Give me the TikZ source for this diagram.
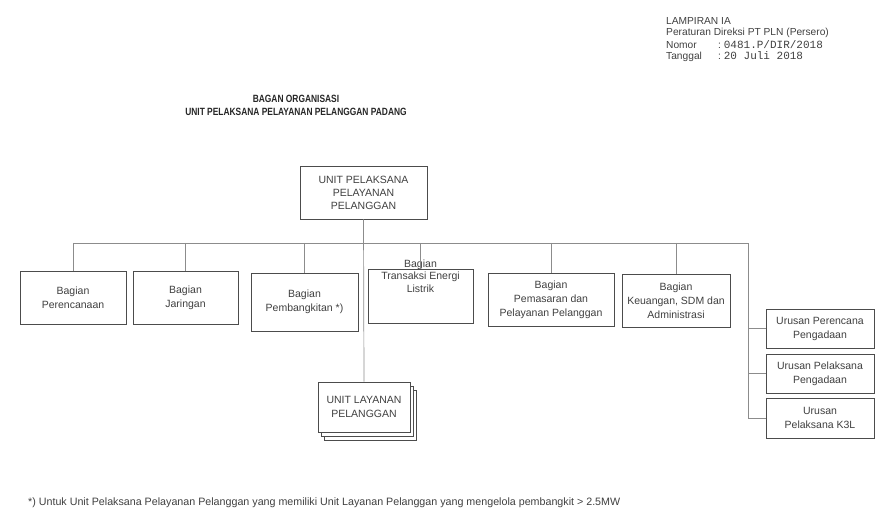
\documentclass[tikz,border=0pt]{standalone}
\usepackage{fontspec}
\setmainfont{Liberation Sans}
\setmonofont{Liberation Mono}
\newfontfamily\judulfont[FakeStretch=0.8]{Liberation Sans}
\usetikzlibrary{shadows}

\begin{document}
\begin{tikzpicture}[x=1pt, y=-1pt,
    box/.style={draw=black!70, fill=white, line width=0.8pt, align=center,
                inner sep=1pt, text=black!75, font=\fontsize{10.5}{14}\selectfont},
    boxtext/.style={align=center, inner sep=0pt, text=black!75,
                font=\fontsize{10.5}{12.5}\selectfont},
    link/.style={draw=black!45, line width=0.7pt},
    hdr/.style={anchor=west, inner sep=0pt, text=black!75, font=\fontsize{10.2}{12}\selectfont},
    judul/.style={inner sep=0pt, text=black!85, font=\judulfont\bfseries\fontsize{10.5}{12}\selectfont}]
    \useasboundingbox (0,0) rectangle (875,521);

    % Header
    \node[hdr] (lampiran) at (666,21) {LAMPIRAN IA};
    \node[hdr] (peraturan) at (666,33) {Peraturan Direksi PT PLN (Persero)};
    \node[hdr] (nomor) at (666,45) {\makebox[52pt][l]{Nomor}:\ {\fontsize{11}{12}\selectfont\texttt{0481.P/DIR/2018}}};
    \node[hdr] (tanggal) at (666,57) {\makebox[52pt][l]{Tanggal}:\ {\fontsize{11}{12}\selectfont\texttt{20 Juli 2018}}};

    % Title
    \node[judul] (judul1) at (296,99) {BAGAN ORGANISASI};
    \node[judul] (judul2) at (296,112) {UNIT PELAKSANA PELAYANAN PELANGGAN PADANG};

    % Top unit
    \node[box, minimum width=127pt, minimum height=53pt,
          font=\fontsize{10.5}{13}\selectfont] (upp) at (363.5,192.5)
          {UNIT PELAKSANA\\PELAYANAN\\PELANGGAN};

    % Bagian
    \node[box, minimum width=106pt, minimum height=53pt] (perencanaan) at (73,298) {Bagian\\Perencanaan};
    \node[box, minimum width=105pt, minimum height=53pt] (jaringan) at (185.5,298) {Bagian\\Jaringan};
    \node[box, minimum width=107pt, minimum height=58pt] (pembangkit) at (304.5,302) {Bagian\\Pembangkitan *)};
    \node[box, minimum width=105pt, minimum height=54pt] (transaksi) at (420.5,296) {};
    \node[boxtext] (transaksiT) at (420.5,276) {Bagian\\Transaksi Energi\\Listrik};
    \node[box, minimum width=126pt, minimum height=53pt] (pemasaran) at (551,300)
          {Bagian\\Pemasaran dan\\Pelayanan Pelanggan};
    \node[box, minimum width=108pt, minimum height=53pt] (keuangan) at (676,301)
          {Bagian\\Keuangan, SDM dan\\Administrasi};

    % Unit Layanan Pelanggan (stacked)
    \node[box, minimum width=92pt, minimum height=50pt,
          double copy shadow={shadow xshift=3pt, shadow yshift=-4pt, draw=black!70, fill=white}]
          (ulp) at (364,407) {UNIT LAYANAN\\PELANGGAN};

    % Urusan
    \node[box, minimum width=108pt, minimum height=39pt] (urusan1) at (820,328.5) {Urusan Perencana\\Pengadaan};
    \node[box, minimum width=108pt, minimum height=39pt] (urusan2) at (820,373.5) {Urusan Pelaksana\\Pengadaan};
    \node[box, minimum width=108pt, minimum height=40pt] (urusan3) at (820,418) {Urusan\\Pelaksana K3L};

    % Connectors
    \coordinate (busR) at (748,243);
    \draw[link] (upp.south) -- (ulp.north);
    \draw[link] (perencanaan.north |- busR) -- (busR) -- (busR |- urusan3.west);
    \foreach \n in {perencanaan,jaringan,pembangkit,transaksi,pemasaran,keuangan}
        \draw[link] (\n.north |- busR) -- (\n.north);
    \foreach \n in {urusan1,urusan2,urusan3}
        \draw[link] (busR |- \n.west) -- (\n.west);

    % Footnote
    \node[hdr, font=\fontsize{10.7}{12}\selectfont] (catatan) at (28,503)
          {*) Untuk Unit Pelaksana Pelayanan Pelanggan yang memiliki Unit Layanan Pelanggan yang mengelola pembangkit > 2.5MW};
\end{tikzpicture}
\end{document}
